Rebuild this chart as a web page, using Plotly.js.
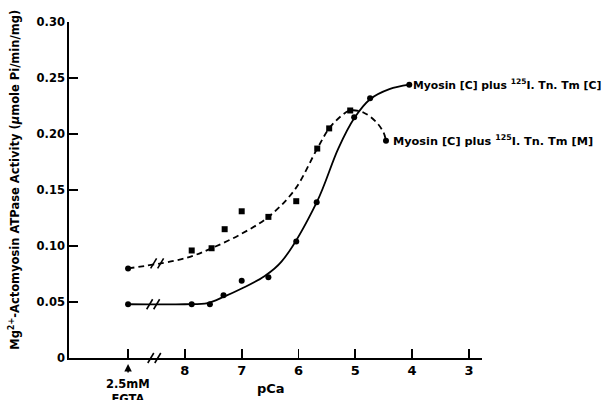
<!DOCTYPE html>
<html>
<head>
<meta charset="utf-8">
<script src="https://cdn.plot.ly/plotly-3.0.1.min.js"></script>
<style>
html,body{margin:0;padding:0;background:#fff;}
#chart{width:609px;height:400px;}
</style>
</head>
<body>
<div id="chart"></div>
<script>
// ---- data ----
// x positions are pCa; the EGTA (no calcium) condition is placed one unit beyond pCa 8
const egtaPos = 9;
const xTickVals = [9, 8, 7, 6, 5, 4, 3];
const xTickText = [' ', '8', '7', '6', '5', '4', '3'];
const yTickVals = [0, 0.05, 0.10, 0.15, 0.20, 0.25, 0.30];
const yTickText = ['0', '0.05', '0.10', '0.15', '0.20', '0.25', '0.30'];

// Myosin [C] plus 125I.Tn.Tm [C]  (solid line, circles)
const cPCa = [9, 7.88, 7.56, 7.32, 7.0, 6.53, 6.04, 5.68, 5.02, 4.74, 4.05];
const cAct = [0.048, 0.048, 0.048, 0.056, 0.069, 0.072, 0.104, 0.139, 0.215, 0.232, 0.244];
// fitted curve drawn in the figure
const cCurvePCa = [9, 8.0, 7.6, 7.3, 7.0, 6.6, 6.3, 5.68, 5.3, 5.02, 4.74, 4.4, 4.05];
const cCurveAct = [0.048, 0.048, 0.049, 0.055, 0.062, 0.073, 0.086, 0.139, 0.187, 0.214, 0.231, 0.240, 0.244];

// Myosin [C] plus 125I.Tn.Tm [M]  (dashed line, squares)
const mPCa = [9, 7.88, 7.53, 7.3, 7.0, 6.53, 6.04, 5.67, 5.46, 5.09, 4.46];
const mAct = [0.080, 0.096, 0.098, 0.115, 0.131, 0.126, 0.140, 0.187, 0.205, 0.221, 0.194];
const mCurvePCa = [9, 8.0, 7.53, 7.0, 6.53, 6.07, 5.67, 5.46, 5.25, 5.09, 4.85, 4.62, 4.5, 4.46];
const mCurveAct = [0.080, 0.089, 0.098, 0.111, 0.126, 0.150, 0.187, 0.205, 0.216, 0.221, 0.219, 0.210, 0.201, 0.194];

const labelC = 'Myosin [C] plus <sup>125</sup>I. Tn. Tm [C]';
const labelM = 'Myosin [C] plus <sup>125</sup>I. Tn. Tm [M]';
const yTitle = 'Mg<sup>2+</sup>-Actomyosin ATPase Activity (<i>μ</i>mole Pi/min/mg)';
const xTitle = 'pCa';
const egtaLabel = '2.5mM<br>EGTA';

// ---- drawing ----
const FONT = '"DejaVu Sans", Lato, sans-serif';
const ink = '#000';

const traces = [
  {x: cCurvePCa, y: cCurveAct, mode: 'lines', line: {color: ink, width: 1.8, shape: 'spline', smoothing: 1}, hoverinfo: 'skip'},
  {x: mCurvePCa, y: mCurveAct, mode: 'lines', line: {color: ink, width: 1.8, dash: '6px,4px', shape: 'spline', smoothing: 1}, hoverinfo: 'skip'},
  {x: cPCa, y: cAct, mode: 'markers', marker: {color: ink, size: 6, symbol: 'circle'}},
  {x: mPCa, y: mAct, mode: 'markers',
   marker: {color: ink, size: 6, symbol: mPCa.map((v, i) => (i === 0 || i === mPCa.length - 1) ? 'circle' : 'square')}}
];

function breakMarks(xa, ya) {
  const out = [];
  [-4, 3].forEach(dx => {
    out.push({type: 'line', xref: 'x', yref: ya.ref, xsizemode: 'pixel', ysizemode: 'pixel',
      xanchor: xa, yanchor: ya.val, x0: dx - 3, x1: dx + 3, y0: -5, y1: 5,
      line: {color: ink, width: 1.6}});
  });
  return out;
}
const breakX = 8.53;
const shapes = [].concat(
  breakMarks(breakX, {ref: 'paper', val: 0}),
  breakMarks(breakX + 0.02, {ref: 'y', val: cCurveAct[0]}),
  breakMarks(breakX - 0.05, {ref: 'y', val: (mCurveAct[0] + mCurveAct[1]) / 2})
);

const layout = {
  width: 609, height: 400,
  margin: {l: 69, r: 127, t: 22, b: 42},
  paper_bgcolor: '#fff', plot_bgcolor: '#fff',
  showlegend: false,
  font: {family: FONT, color: ink, size: 12},
  xaxis: {
    range: [10.04, 2.77], tickvals: xTickVals, ticktext: xTickText,
    ticks: 'inside', ticklen: 9, tickwidth: 1.8, tickcolor: ink,
    showline: true, linewidth: 1.8, linecolor: ink, showgrid: false, zeroline: false,
    tickfont: {family: FONT, size: 13, weight: 700}
  },
  yaxis: {
    range: [0, 0.30], tickvals: yTickVals, ticktext: yTickText,
    ticks: 'inside', ticklen: 9, tickwidth: 1.8, tickcolor: ink,
    showline: true, linewidth: 1.8, linecolor: ink, showgrid: false, zeroline: false,
    tickfont: {family: FONT, size: 11.5, weight: 700}
  },
  shapes: shapes,
  annotations: [
    {x: cPCa[cPCa.length - 1], y: cAct[cAct.length - 1], xref: 'x', yref: 'y', text: labelC,
     showarrow: false, xanchor: 'left', yanchor: 'middle', xshift: 2,
     font: {family: FONT, size: 10.8, weight: 700}},
    {x: mPCa[mPCa.length - 1], y: mAct[mAct.length - 1], xref: 'x', yref: 'y', text: labelM,
     showarrow: false, xanchor: 'left', yanchor: 'middle', xshift: 5,
     font: {family: FONT, size: 11.3, weight: 700}},
    {x: 0.49, y: 0, xref: 'paper', yref: 'paper', text: xTitle, showarrow: false,
     xanchor: 'center', yanchor: 'top', yshift: -21, font: {family: FONT, size: 13, weight: 700}},
    {x: egtaPos, y: 0, xref: 'x', yref: 'paper', text: egtaLabel, showarrow: false,
     xanchor: 'center', yanchor: 'top', yshift: -17, font: {family: FONT, size: 11.5, weight: 700}},
    {x: egtaPos, y: 0, xref: 'x', yref: 'paper', text: '', showarrow: true,
     ax: 0, ay: 10, arrowhead: 2, arrowsize: 1, arrowwidth: 1.5, arrowcolor: ink, yshift: -6},
    {x: -0.131, y: 0.53, xref: 'paper', yref: 'paper', text: yTitle, showarrow: false,
     textangle: -90, xanchor: 'center', yanchor: 'middle', font: {family: FONT, size: 11.5, weight: 700}}
  ]
};

Plotly.newPlot('chart', traces, layout, {staticPlot: true, displayModeBar: false});
</script>
</body>
</html>
